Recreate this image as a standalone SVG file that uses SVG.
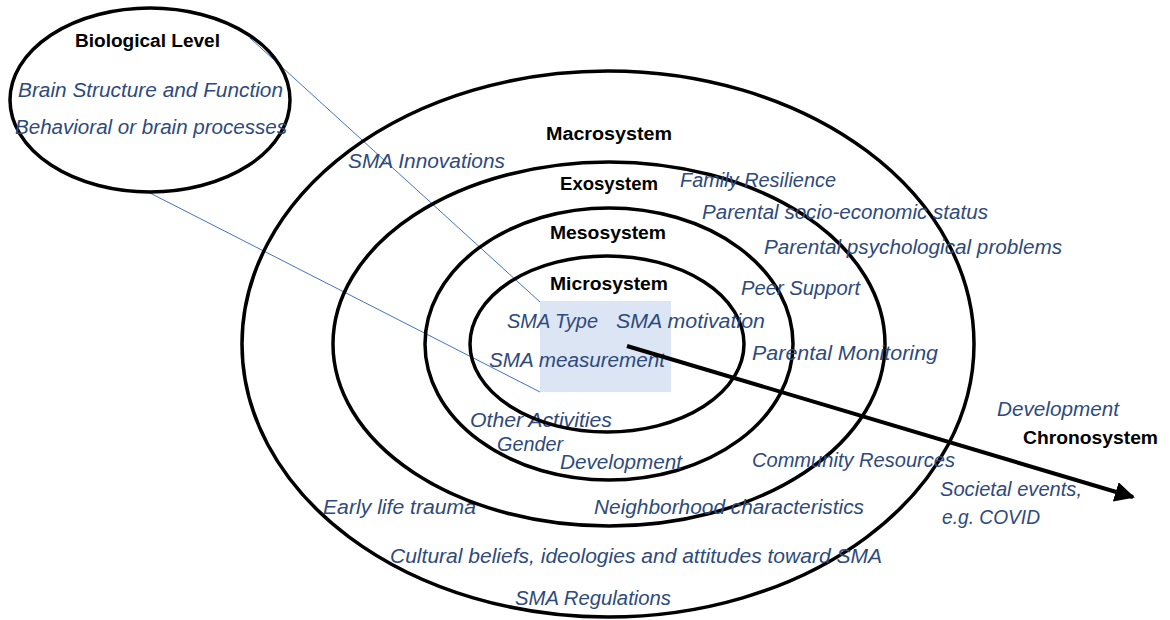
<svg xmlns="http://www.w3.org/2000/svg" width="1170" height="620" viewBox="0 0 1170 620">
<style>
.ring{fill:none;stroke:#000;stroke-width:3.5}
.lbl{font-family:"Liberation Sans",Arial,sans-serif;font-style:italic;font-size:19.5px;fill:#2E4A7D}
.ttl{font-family:"Liberation Sans",Arial,sans-serif;font-weight:bold;font-size:18px;fill:#000}
.link{stroke:#4472C4;stroke-width:1;fill:none}
</style>
<defs>
<marker id="ah" viewBox="0 0 10 10" refX="9" refY="5" markerWidth="5" markerHeight="5" orient="auto" markerUnits="strokeWidth">
<path d="M0,0 L10,5 L0,10 Z" fill="#000"/>
</marker>
</defs>
<rect width="1170" height="620" fill="#fff"/>
<g id="connectors">
<line class="link" x1="250" y1="38" x2="540" y2="302"/>
<line class="link" x1="150" y1="193" x2="540" y2="392"/>
</g>
<g id="macrosystem">
<ellipse class="ring" cx="608" cy="344" rx="366" ry="273"/>
<text class="ttl" x="546" y="140" textLength="126" lengthAdjust="spacingAndGlyphs">Macrosystem</text>
<text class="lbl" x="348" y="168" textLength="157" lengthAdjust="spacingAndGlyphs">SMA Innovations</text>
<text class="lbl" x="323" y="514" textLength="153" lengthAdjust="spacingAndGlyphs">Early life trauma</text>
<text class="lbl" x="390" y="563" textLength="492" lengthAdjust="spacingAndGlyphs">Cultural beliefs, ideologies and attitudes toward SMA</text>
<text class="lbl" x="515" y="605" textLength="156" lengthAdjust="spacingAndGlyphs">SMA Regulations</text>
</g>
<g id="exosystem">
<ellipse class="ring" cx="609" cy="344" rx="276" ry="182"/>
<text class="ttl" x="560" y="190" textLength="98" lengthAdjust="spacingAndGlyphs">Exosystem</text>
<text class="lbl" x="680" y="187" textLength="156" lengthAdjust="spacingAndGlyphs">Family Resilience</text>
<text class="lbl" x="702" y="219" textLength="286" lengthAdjust="spacingAndGlyphs">Parental socio-economic status</text>
<text class="lbl" x="764" y="254" textLength="298" lengthAdjust="spacingAndGlyphs">Parental psychological problems</text>
<text class="lbl" x="752" y="467" textLength="203" lengthAdjust="spacingAndGlyphs">Community Resources</text>
<text class="lbl" x="594" y="514" textLength="270" lengthAdjust="spacingAndGlyphs">Neighborhood characteristics</text>
</g>
<g id="mesosystem">
<ellipse class="ring" cx="609" cy="344" rx="184" ry="136"/>
<text class="ttl" x="550" y="239" textLength="116" lengthAdjust="spacingAndGlyphs">Mesosystem</text>
<text class="lbl" x="741" y="295" textLength="119" lengthAdjust="spacingAndGlyphs">Peer Support</text>
<text class="lbl" x="752" y="360" textLength="186" lengthAdjust="spacingAndGlyphs">Parental Monitoring</text>
<text class="lbl" x="470" y="427" textLength="142" lengthAdjust="spacingAndGlyphs">Other Activities</text>
<text class="lbl" x="497" y="451" textLength="66" lengthAdjust="spacingAndGlyphs">Gender</text>
<text class="lbl" x="560" y="469" textLength="122" lengthAdjust="spacingAndGlyphs">Development</text>
</g>
<g id="microsystem">
<ellipse class="ring" cx="607" cy="344" rx="137" ry="88"/>
<rect x="540" y="301" width="131" height="91" fill="#D6E0F2" opacity="0.85"/>
<text class="ttl" x="550" y="290" textLength="118" lengthAdjust="spacingAndGlyphs">Microsystem</text>
<text class="lbl" x="507" y="328" textLength="91" lengthAdjust="spacingAndGlyphs">SMA Type</text>
<text class="lbl" x="616" y="328" textLength="149" lengthAdjust="spacingAndGlyphs">SMA motivation</text>
<text class="lbl" x="489" y="367" textLength="176" lengthAdjust="spacingAndGlyphs">SMA measurement</text>
</g>
<g id="chronosystem">
<line x1="627" y1="346" x2="1133" y2="497" stroke="#000" stroke-width="4" marker-end="url(#ah)"/>
<text class="lbl" x="997" y="416" textLength="122" lengthAdjust="spacingAndGlyphs">Development</text>
<text class="ttl" x="1023" y="444" textLength="135" lengthAdjust="spacingAndGlyphs">Chronosystem</text>
<text class="lbl" x="940" y="496" textLength="142" lengthAdjust="spacingAndGlyphs">Societal events,</text>
<text class="lbl" x="942" y="524" textLength="98" lengthAdjust="spacingAndGlyphs">e.g. COVID</text>
</g>
<g id="biological">
<ellipse class="ring" cx="150" cy="100" rx="140" ry="92"/>
<text class="ttl" x="75" y="47" textLength="145" lengthAdjust="spacingAndGlyphs">Biological Level</text>
<text class="lbl" x="18" y="97" textLength="265" lengthAdjust="spacingAndGlyphs">Brain Structure and Function</text>
<text class="lbl" x="15" y="134" textLength="272" lengthAdjust="spacingAndGlyphs">Behavioral or brain processes</text>
</g>
</svg>
